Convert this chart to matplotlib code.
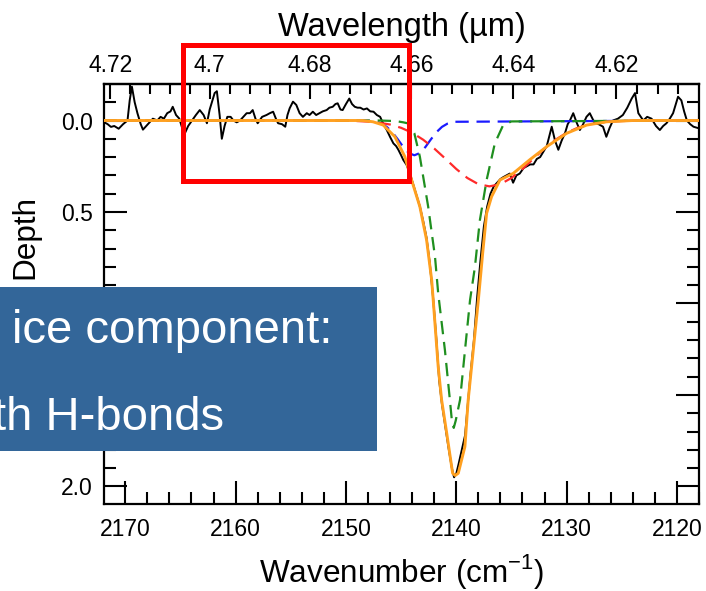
import numpy as np
import matplotlib
matplotlib.use('Agg')
import matplotlib.pyplot as plt
from matplotlib.patches import Rectangle
from matplotlib.ticker import MultipleLocator, FixedLocator, FuncFormatter

# observed spectrum (wavenumber cm-1, optical depth)
obs_nu = [2171.9, 2171.6, 2171.3, 2171.0, 2170.6, 2170.2, 2169.8, 2169.6, 2169.4, 2169.15,
          2168.9, 2168.6, 2168.4, 2168.1, 2167.8, 2167.5, 2167.1, 2166.8, 2166.5, 2166.2,
          2165.9, 2165.7, 2165.4, 2165.1, 2164.85, 2164.6, 2164.3, 2163.95, 2163.6, 2163.25,
          2162.9, 2162.6, 2162.35, 2162.1, 2161.9, 2161.7, 2161.45, 2161.25, 2161.0, 2160.75,
          2160.45, 2160.2, 2159.9, 2159.6, 2159.3, 2159.0, 2158.7, 2158.45, 2158.2, 2158.0,
          2157.6, 2157.2, 2156.9, 2156.6, 2156.35, 2156.15, 2155.8, 2155.5, 2155.3, 2155.1,
          2154.8, 2154.5, 2154.2, 2153.9, 2153.55, 2153.3, 2153.0, 2152.7, 2152.4, 2152.1,
          2151.75, 2151.5, 2151.2, 2150.95, 2150.75, 2150.5, 2150.3, 2150.0, 2149.7, 2149.45,
          2149.2, 2148.95, 2148.7, 2148.4, 2148.1, 2147.8, 2147.5, 2147.2, 2146.9, 2146.6,
          2146.3, 2146.0, 2145.7, 2145.45, 2145.25, 2145.0, 2144.8, 2144.5, 2144.2, 2143.9,
          2143.6, 2143.3, 2143.0, 2142.7, 2142.4, 2142.1, 2141.8, 2141.55, 2141.3, 2141.0,
          2140.7, 2140.4, 2140.2, 2140.0, 2139.8, 2139.5, 2139.2, 2139.0, 2138.7, 2138.4,
          2138.1, 2137.8, 2137.5, 2137.2, 2136.9, 2136.6, 2136.3, 2136.0, 2135.75, 2135.45,
          2135.15, 2134.85, 2134.55, 2134.25, 2133.9, 2133.6, 2133.3, 2133.0, 2132.7, 2132.4,
          2132.1, 2131.8, 2131.55, 2131.35, 2131.05, 2130.75, 2130.45, 2130.15, 2129.9, 2129.7,
          2129.4, 2129.1, 2128.8, 2128.5, 2128.2, 2127.9, 2127.65, 2127.45, 2127.1, 2126.7,
          2126.4, 2126.1, 2125.8, 2125.35, 2124.9, 2124.5, 2124.1, 2123.8, 2123.5, 2123.05,
          2122.7, 2122.3, 2121.9, 2121.55, 2121.25, 2120.95, 2120.65, 2120.35, 2120.05, 2119.9,
          2119.6, 2119.35, 2119.1, 2118.8, 2118.5, 2118.0]
obs_depth = [0.01, 0.02, 0.035, 0.03, 0.045, 0.02, 0.0, -0.11, -0.185, -0.10,
             -0.04, 0.02, 0.05, 0.03, 0.01, -0.01, 0.0, -0.02, -0.01, -0.04,
             -0.05, -0.075, -0.03, -0.01, 0.04, 0.07, 0.03, 0.0, -0.03, -0.057,
             -0.03, 0.015, -0.06, -0.11, -0.15, -0.16, -0.03, 0.10, 0.03, -0.02,
             -0.02, 0.0, 0.01, 0.0, -0.02, -0.04, -0.04, -0.057, -0.01, 0.015,
             -0.02, -0.03, -0.04, -0.048, -0.01, 0.015, 0.02, 0.034, -0.03, -0.067,
             -0.103, -0.085, -0.04, -0.02, -0.04, -0.03, -0.048, -0.03, -0.04, -0.05,
             -0.057, -0.07, -0.075, -0.09, -0.094, -0.06, -0.057, -0.09, -0.12, -0.09,
             -0.075, -0.07, -0.07, -0.06, -0.066, -0.05, -0.048, -0.03, -0.02, 0.02,
             0.052, 0.09, 0.125, 0.14, 0.16, 0.19, 0.216, 0.243, 0.29, 0.35,
             0.41, 0.47, 0.55, 0.64, 0.78, 0.97, 1.20, 1.42, 1.55, 1.67,
             1.79, 1.90, 1.95, 1.93, 1.88, 1.80, 1.72, 1.58, 1.38, 1.20,
             0.96, 0.76, 0.58, 0.47, 0.40, 0.36, 0.34, 0.32, 0.31, 0.30,
             0.29, 0.34, 0.30, 0.29, 0.26, 0.25, 0.24, 0.24, 0.21, 0.20,
             0.17, 0.14, 0.08, 0.034, 0.11, 0.16, 0.11, 0.07, 0.02, 0.0,
             -0.04, 0.01, 0.052, 0.02, -0.02, -0.04, -0.01, 0.015, 0.02, 0.034,
             0.089, 0.04, 0.0, -0.01, -0.03, -0.07, -0.12, -0.15, -0.04, 0.0,
             -0.02, -0.01, 0.03, 0.052, 0.03, 0.015, -0.01, -0.04, -0.10, -0.13,
             -0.11, -0.05, 0.0, 0.02, 0.034, 0.043]

# fit components
blue_nu = [2172, 2148, 2147.3, 2146.8, 2146.3, 2145.8, 2145.3, 2144.8, 2144.3, 2143.8,
           2143.3, 2142.8, 2142.3, 2141.8, 2141.3, 2140.8, 2140.3, 2118]
blue_depth = [0, 0.001, 0.007, 0.017, 0.035, 0.064, 0.103, 0.145, 0.178, 0.19,
              0.178, 0.145, 0.103, 0.064, 0.035, 0.017, 0.007, 0]

red_nu = [2172, 2150, 2149, 2148, 2147, 2146, 2145, 2144, 2143, 2142, 2141, 2140, 2139,
          2138, 2137, 2136, 2135, 2134, 2133, 2132, 2131, 2130, 2129, 2128, 2127, 2126,
          2125, 2124, 2118]
red_depth = [0, 0.001, 0.003, 0.006, 0.012, 0.022, 0.040, 0.067, 0.105, 0.153, 0.208,
             0.265, 0.314, 0.348, 0.36, 0.348, 0.314, 0.265, 0.208, 0.153, 0.105, 0.067,
             0.040, 0.022, 0.012, 0.006, 0.003, 0.001, 0]

green_nu = [2172, 2147, 2145.5, 2144.8, 2144.35, 2143.8, 2143.3, 2142.55, 2141.93, 2141.64,
            2141.03, 2140.58, 2140.4, 2140.23, 2140.05, 2139.66, 2139.21, 2138.75, 2138.31,
            2137.86, 2137.25, 2136.5, 2135.75, 2135, 2118]
green_depth = [0, 0, 0.003, 0.01, 0.016, 0.07, 0.198, 0.47, 0.744, 0.944,
               1.255, 1.527, 1.64, 1.68, 1.64, 1.527, 1.255, 0.98, 0.80,
               0.544, 0.325, 0.124, 0.025, 0.005, 0]

fit_nu = [2172, 2148.5, 2147.55, 2146.62, 2145.56, 2144.66, 2144.05, 2143.3, 2142.69, 2142.23,
          2142.09, 2141.64, 2141.33, 2140.87, 2140.33, 2140.1, 2139.82, 2139.22, 2138.92,
          2138.46, 2138.0, 2137.6, 2137.25, 2136.8, 2136.04, 2134.84, 2133.33, 2131.81,
          2130.0, 2128.19, 2126.37, 2124, 2118]
fit_depth = [0, 0, 0.007, 0.025, 0.089, 0.198, 0.325, 0.471, 0.653, 0.872,
             0.981, 1.345, 1.527, 1.708, 1.928, 1.94, 1.928, 1.783, 1.527,
             1.254, 0.981, 0.72, 0.507, 0.416, 0.325, 0.289, 0.214, 0.143,
             0.070, 0.025, 0.007, 0, 0]

wl_ticks = [4.72, 4.70, 4.68, 4.66, 4.64, 4.62]
# depth labels left visible (1.0 and 1.5 sit under the text box)
depth_labels = [0.0, 0.5, 2.0]

plt.rcParams['font.family'] = ['Liberation Sans', 'DejaVu Sans']
plt.rcParams['mathtext.fontset'] = 'custom'
plt.rcParams['mathtext.rm'] = 'Liberation Sans'

fig = plt.figure(figsize=(7.06, 5.91), dpi=100)
ax = fig.add_axes([0.1473, 0.1472, 0.8428, 0.7102])

ax.plot(obs_nu, obs_depth, color='black', lw=1.4, zorder=2)
ax.plot(blue_nu, blue_depth, color='#1a1aff', lw=1.6, dashes=(6, 3.5), zorder=3)
ax.plot(red_nu, red_depth, color='#ff2a2a', lw=1.6, dashes=(6, 3.5), zorder=3)
ax.plot(green_nu, green_depth, color='#1f8f1f', lw=1.6, dashes=(6, 3.5), zorder=3)
ax.plot(fit_nu, fit_depth, color='#ffa020', lw=2.1, zorder=4)

ax.set_xlim(2171.93, 2118.0)
ax.set_ylim(2.096, -0.198)


def depth_fmt(v, p):
    v = round(v, 2) + 0.0
    return f'{v:.1f}' if v in depth_labels else ''


ax.xaxis.set_major_locator(MultipleLocator(10))
ax.xaxis.set_minor_locator(MultipleLocator(2))
ax.yaxis.set_major_locator(MultipleLocator(0.5))
ax.yaxis.set_minor_locator(MultipleLocator(0.1))
ax.yaxis.set_major_formatter(FuncFormatter(depth_fmt))
ax.tick_params(which='both', direction='in', top=False, right=True, width=1.5,
               labelsize=16.5, color='black')
ax.tick_params(which='major', length=16.5)
ax.tick_params(which='minor', length=8.5)
ax.tick_params(axis='x', pad=10)
ax.tick_params(axis='y', pad=8)
for s in ax.spines.values():
    s.set_linewidth(1.6)

ax.set_xlabel(r'Wavenumber (cm$^{-1}$)', fontsize=22.7, labelpad=8)
ax.set_ylabel('Depth', fontsize=22.7)
ax.yaxis.set_label_coords(-0.1076, 0.636)


def to_wl(nu):
    with np.errstate(divide='ignore'):
        return 10000.0 / (4290.0 - np.asarray(nu, dtype=float))


def to_nu(wl):
    with np.errstate(divide='ignore'):
        return 4290.0 - 10000.0 / np.asarray(wl, dtype=float)


sec = ax.secondary_xaxis('top', functions=(to_wl, to_nu))
sec.xaxis.set_major_locator(FixedLocator(wl_ticks))
sec.xaxis.set_minor_locator(MultipleLocator(0.004))
sec.xaxis.set_major_formatter(FuncFormatter(lambda v, p: f'{v:g}'))
sec.tick_params(which='both', direction='in', width=1.5, labelsize=16.5, pad=5)
sec.tick_params(which='major', length=11)
sec.tick_params(which='minor', length=7)
sec.spines['top'].set_linewidth(1.6)
sec.set_xlabel('Wavelength (µm)', fontsize=23.5, labelpad=13)

# red highlight frame and blue text box (figure overlay)
fig.add_artist(Rectangle((0.2585, 0.6937), 0.3208, 0.2306, transform=fig.transFigure,
                         fill=False, edgecolor='#ff0000', lw=3.6, zorder=10))
fig.add_artist(Rectangle((0, 0.2369), 0.534, 0.2775, transform=fig.transFigure,
                         facecolor='#336699', edgecolor='none', zorder=10))
fig.text(333 / 706, 0.4196, 'ice component:', ha='right', va='baseline',
         color='white', fontsize=34, zorder=11)
fig.text(224 / 706, 0.2724, 'th H-bonds', ha='right', va='baseline',
         color='white', fontsize=34, zorder=11)

fig.savefig('out.png', dpi=100)
